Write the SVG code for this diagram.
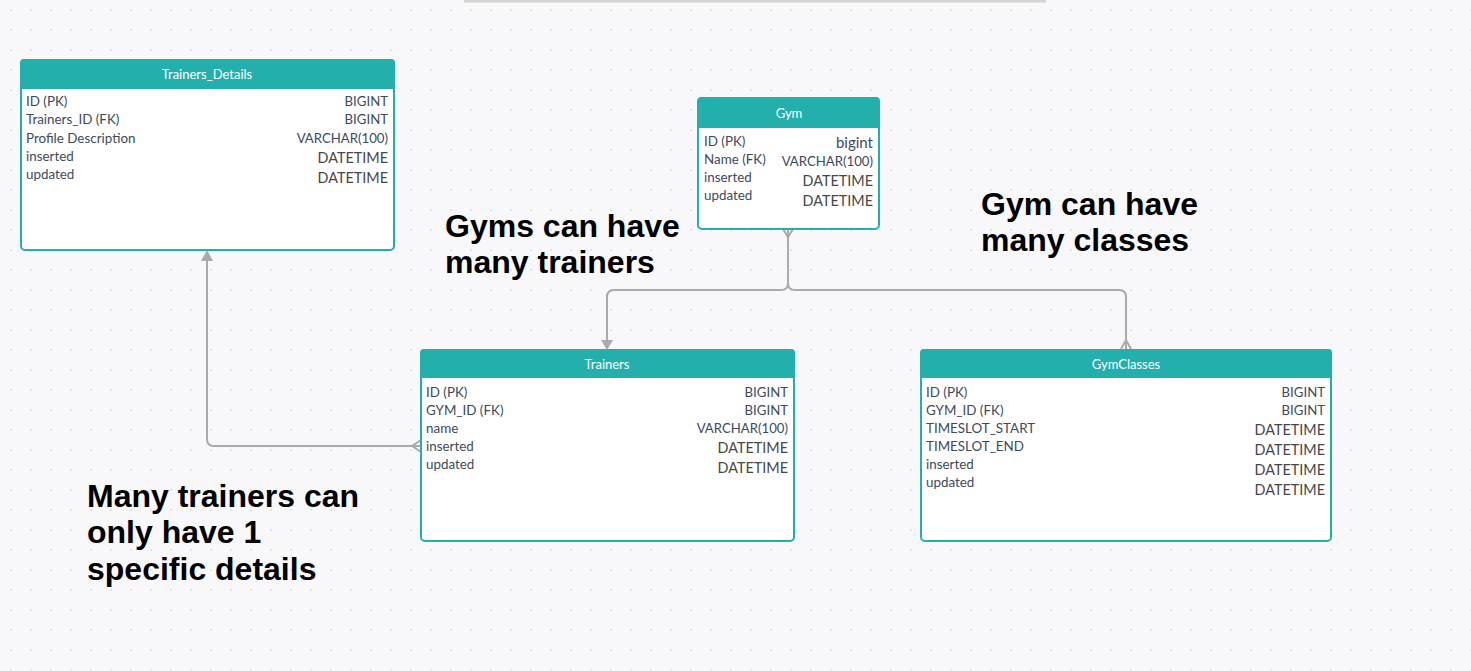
<svg xmlns="http://www.w3.org/2000/svg" width="1471" height="671" viewBox="0 0 1471 671">
<defs>
<pattern id="dots" x="0" y="0" width="20" height="20" patternUnits="userSpaceOnUse">
<circle cx="11" cy="10" r="1.1" fill="#dcdde4"/>
</pattern>
<style>
.box{fill:#ffffff;stroke:#23afac;stroke-width:2}
.hdr{fill:#23afac}
.title{font-family:Lato,"Open Sans",sans-serif;font-size:13px;fill:#ffffff;text-anchor:middle}
.f{font-family:Lato,"Open Sans",sans-serif;font-size:13.4px;fill:#3d4a5c}
.t{font-family:Lato,"Open Sans",sans-serif;font-size:13.2px;fill:#3d4a5c;text-anchor:end}
.dt{font-family:Lato,"Open Sans",sans-serif;font-size:14.4px;fill:#474747;text-anchor:end}
.note{font-family:"Liberation Sans",Arial,sans-serif;font-weight:bold;font-size:32px;fill:#000000}
.conn{fill:none;stroke:#aaaaaa;stroke-width:2}
.head{fill:#aaaaaa}
</style>
</defs>
<rect x="0" y="0" width="1471" height="671" fill="#f8f8fa"/>
<rect x="0" y="0" width="1471" height="671" fill="url(#dots)"/>
<rect x="464" y="0" width="582" height="2" fill="#d9d2cb"/>
<rect x="464" y="2" width="582" height="1" fill="#e4e2ea"/>

<g id="connectors">
<path class="conn" d="M788,230 V283 Q788,290 781,290 H614 Q607,290 607,297 V341"/>
<path class="conn" d="M788,283 Q788,290 795,290 H1119 Q1126,290 1126,297 V349"/>
<path class="conn" d="M783,229 L788,237 L793,229"/>
<path class="conn" d="M1121,349 L1126,340 L1131,349"/>
<polygon class="head" points="601,340 613,340 607,350"/>
<path class="conn" d="M421,446 H214 Q207,446 207,439 V260"/>
<polygon class="head" points="201,261 213,261 207,250"/>
<path class="conn" d="M421,440 L412,446 L421,452"/>
</g>

<g id="trainers_details">
<rect class="box" x="21" y="60" width="373" height="190" rx="4"/>
<path class="hdr" d="M20,89 V63 Q20,59 24,59 H391 Q395,59 395,63 V89 Z"/>
<text class="title" x="207" y="79">Trainers_Details</text>
<text class="f" x="26" y="106">ID (PK)</text>
<text class="f" x="26" y="124">Trainers_ID (FK)</text>
<text class="f" x="26" y="143">Profile Description</text>
<text class="f" x="26" y="161">inserted</text>
<text class="f" x="26" y="179">updated</text>
<text class="t" x="388" y="106">BIGINT</text>
<text class="t" x="388" y="124">BIGINT</text>
<text class="t" x="388" y="143">VARCHAR(100)</text>
<text class="dt" x="388" y="163">DATETIME</text>
<text class="dt" x="388" y="183">DATETIME</text>
</g>

<g id="gym">
<rect class="box" x="698" y="98" width="181" height="131" rx="4"/>
<path class="hdr" d="M697,128 V102 Q697,97 702,97 H876 Q880,97 880,102 V128 Z"/>
<text class="title" x="789" y="118">Gym</text>
<text class="f" x="704" y="146">ID (PK)</text>
<text class="f" x="704" y="164">Name (FK)</text>
<text class="f" x="704" y="182">inserted</text>
<text class="f" x="704" y="200">updated</text>
<text class="t" x="873" y="148" style="font-size:15px">bigint</text>
<text class="t" x="873" y="166">VARCHAR(100)</text>
<text class="dt" x="873" y="186">DATETIME</text>
<text class="dt" x="873" y="206">DATETIME</text>
</g>

<g id="trainers">
<rect class="box" x="421" y="350" width="373" height="191" rx="4"/>
<path class="hdr" d="M420,378 V353 Q420,349 424,349 H791 Q795,349 795,353 V378 Z"/>
<text class="title" x="607" y="369">Trainers</text>
<text class="f" x="426" y="397">ID (PK)</text>
<text class="f" x="426" y="415">GYM_ID (FK)</text>
<text class="f" x="426" y="433">name</text>
<text class="f" x="426" y="451">inserted</text>
<text class="f" x="426" y="469">updated</text>
<text class="t" x="788" y="397">BIGINT</text>
<text class="t" x="788" y="415">BIGINT</text>
<text class="t" x="788" y="433">VARCHAR(100)</text>
<text class="dt" x="788" y="453">DATETIME</text>
<text class="dt" x="788" y="473">DATETIME</text>
</g>

<g id="gymclasses">
<rect class="box" x="921" y="350" width="410" height="191" rx="4"/>
<path class="hdr" d="M920,378 V353 Q920,349 924,349 H1328 Q1332,349 1332,353 V378 Z"/>
<text class="title" x="1126" y="369">GymClasses</text>
<text class="f" x="926" y="397">ID (PK)</text>
<text class="f" x="926" y="415">GYM_ID (FK)</text>
<text class="f" x="926" y="433">TIMESLOT_START</text>
<text class="f" x="926" y="451">TIMESLOT_END</text>
<text class="f" x="926" y="469">inserted</text>
<text class="f" x="926" y="487">updated</text>
<text class="t" x="1325" y="397">BIGINT</text>
<text class="t" x="1325" y="415">BIGINT</text>
<text class="dt" x="1325" y="435">DATETIME</text>
<text class="dt" x="1325" y="455">DATETIME</text>
<text class="dt" x="1325" y="475">DATETIME</text>
<text class="dt" x="1325" y="495">DATETIME</text>
</g>

<g id="notes">
<text class="note" x="445" y="237">Gyms can have</text>
<text class="note" x="445" y="273">many trainers</text>
<text class="note" x="981" y="215">Gym can have</text>
<text class="note" x="981" y="251">many classes</text>
<text class="note" x="87" y="507">Many trainers can</text>
<text class="note" x="87" y="543">only have 1</text>
<text class="note" x="87" y="580">specific details</text>
</g>
</svg>
